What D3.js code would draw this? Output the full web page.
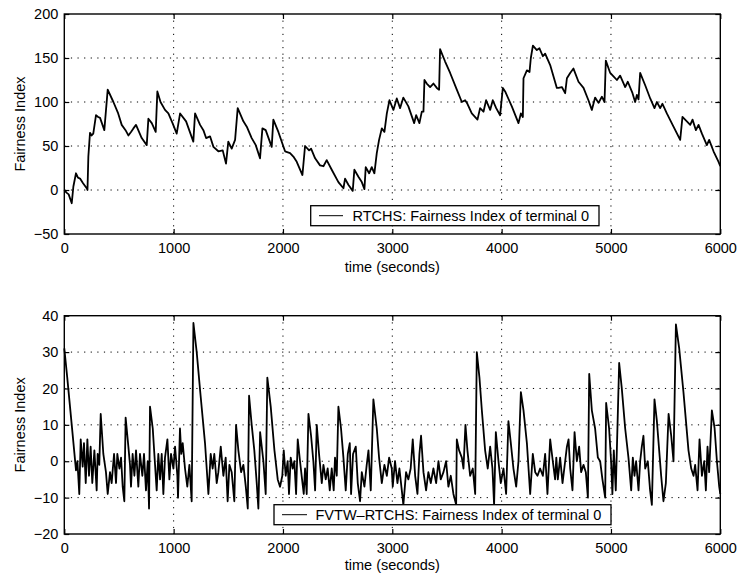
<!DOCTYPE html>
<html>
<head>
<meta charset="utf-8">
<script src="https://cdn.jsdelivr.net/npm/d3@7"></script>
<style>
  html, body { margin: 0; padding: 0; background: #fff; }
  svg text { font-family: "Liberation Sans", Arial, Helvetica, sans-serif; fill: #000; }
</style>
</head>
<body>
<svg id="chart" width="737" height="574"></svg>
<script>
// ---- data ----
var timeTicks = [0, 1000, 2000, 3000, 4000, 5000, 6000];
var rtchsTicks = [-50, 0, 50, 100, 150, 200];
var fvtwTicks = [-20, -10, 0, 10, 20, 30, 40];

// RTCHS: Fairness Index of terminal 0
var rtchsTime = [0, 20, 40, 68, 83, 107, 125, 144, 170, 205, 212, 220, 235, 250, 265, 290, 310, 327, 366, 397,
  449, 490, 525, 560, 586, 610, 632, 656, 708, 754, 769, 800, 836, 851, 880, 921, 952, 990, 1028, 1059,
  1114, 1180, 1196, 1242, 1272, 1297, 1333, 1364, 1409, 1449, 1479, 1500, 1531, 1562, 1586, 1638, 1669, 1714, 1751, 1790,
  1812, 1842, 1897, 1912, 1958, 2019, 2065, 2095, 2126, 2178, 2202, 2239, 2257, 2294, 2339, 2370, 2400, 2446, 2507, 2553,
  2568, 2598, 2638, 2653, 2690, 2721, 2745, 2757, 2788, 2812, 2836, 2858, 2879, 2904, 2928, 2950, 2974, 3010, 3041, 3071,
  3101, 3147, 3200, 3218, 3248, 3270, 3285, 3294, 3315, 3346, 3376, 3407, 3428, 3437, 3483, 3529, 3590, 3636, 3666, 3687,
  3727, 3779, 3803, 3834, 3858, 3895, 3919, 3950, 3986, 4011, 4032, 4093, 4154, 4176, 4194, 4200, 4231, 4255, 4267, 4286,
  4322, 4346, 4377, 4398, 4444, 4505, 4520, 4551, 4581, 4597, 4627, 4657, 4703, 4749, 4794, 4825, 4855, 4886, 4917, 4941,
  4953, 4993, 5023, 5054, 5084, 5130, 5154, 5197, 5221, 5237, 5252, 5267, 5313, 5359, 5398, 5420, 5450, 5471, 5511, 5572,
  5633, 5654, 5694, 5725, 5746, 5777, 5801, 5832, 5877, 5898, 5938, 5984, 6000];
var rtchsValue = [0, -3, -5, -15, 4, 19, 14, 13, 8, 2, 0, 38, 65, 62, 64, 85, 83, 82, 68, 114,
  100, 88, 74, 68, 62, 66, 70, 74, 59, 51, 81, 76, 66, 112, 100, 91, 87, 76, 64, 87,
  78, 55, 87, 74, 68, 59, 61, 49, 44, 45, 30, 55, 47, 57, 93, 78, 72, 59, 51, 36,
  70, 68, 49, 80, 66, 44, 42, 38, 32, 17, 50, 45, 47, 36, 28, 27, 34, 23, 9, 2,
  13, 6, -1, 23, 15, 9, 1, 26, 19, 26, 19, 42, 57, 70, 66, 87, 102, 91, 104, 93,
  105, 95, 76, 85, 76, 89, 89, 125, 121, 117, 121, 116, 114, 160, 146, 133, 114, 100, 102, 98,
  87, 80, 93, 89, 102, 91, 102, 93, 85, 116, 112, 95, 76, 87, 83, 127, 136, 134, 150, 164,
  159, 161, 152, 155, 142, 116, 116, 117, 110, 127, 133, 138, 123, 116, 102, 91, 105, 99, 106, 100,
  147, 133, 129, 125, 130, 117, 123, 110, 100, 108, 103, 133, 119, 104, 93, 100, 93, 98, 87, 72,
  57, 83, 78, 74, 80, 68, 74, 64, 51, 57, 44, 32, 27];

// FVTW-RTCHS: Fairness Index of terminal 0
var fvtwTime = [0, 27, 68, 107, 120, 137, 150, 168, 180, 196, 211, 226, 241, 256, 275, 296, 305, 320, 333, 357,
  381, 397, 418, 433, 455, 473, 485, 504, 519, 534, 549, 561, 586, 601, 610, 625, 641, 656, 677, 692,
  714, 729, 747, 763, 775, 784, 809, 830, 845, 860, 876, 891, 906, 921, 943, 961, 976, 998, 1013, 1034,
  1040, 1058, 1070, 1083, 1104, 1125, 1144, 1165, 1181, 1211, 1242, 1287, 1318, 1339, 1357, 1372, 1394, 1409, 1431, 1455,
  1476, 1494, 1510, 1531, 1555, 1571, 1592, 1617, 1638, 1660, 1678, 1690, 1714, 1738, 1760, 1775, 1791, 1821, 1842, 1857,
  1888, 1922, 1952, 1973, 1994, 2007, 2025, 2043, 2055, 2071, 2089, 2104, 2120, 2135, 2156, 2171, 2190, 2202, 2217, 2233,
  2257, 2278, 2294, 2309, 2330, 2355, 2370, 2391, 2409, 2428, 2446, 2464, 2476, 2492, 2507, 2531, 2553, 2574, 2593, 2611,
  2623, 2641, 2666, 2684, 2705, 2721, 2745, 2766, 2782, 2803, 2827, 2858, 2879, 2904, 2928, 2950, 2971, 2995, 3004, 3025,
  3047, 3065, 3087, 3101, 3126, 3147, 3168, 3187, 3209, 3230, 3248, 3263, 3285, 3309, 3330, 3352, 3376, 3401, 3422, 3443,
  3468, 3492, 3513, 3535, 3559, 3584, 3590, 3611, 3636, 3651, 3669, 3687, 3712, 3736, 3758, 3773, 3797, 3819, 3849, 3873,
  3895, 3916, 3931, 3947, 3971, 3992, 4017, 4041, 4062, 4084, 4108, 4133, 4154, 4176, 4200, 4231, 4261, 4285, 4307, 4328,
  4352, 4377, 4398, 4419, 4444, 4468, 4489, 4500, 4514, 4535, 4557, 4581, 4597, 4612, 4627, 4648, 4667, 4688, 4709, 4727,
  4749, 4770, 4789, 4801, 4825, 4855, 4880, 4901, 4922, 4947, 4956, 4983, 5001, 5013, 5026, 5044, 5075, 5099, 5130, 5160,
  5185, 5200, 5215, 5230, 5252, 5267, 5282, 5297, 5313, 5337, 5358, 5374, 5398, 5420, 5441, 5459, 5480, 5502, 5527, 5551,
  5572, 5594, 5624, 5663, 5709, 5734, 5755, 5770, 5792, 5810, 5832, 5853, 5868, 5883, 5898, 5923, 5948, 5969, 5990, 6000];
var fvtwValue = [31, 23, 10, -2.5, 0, -9, 6, -1.5, 5, -6, 6, -4, 4, -6, 3, -8, 2, -1, 13, 2,
  -3, -9, -3, -6, 2, -6, 2, -2, 1, -7, -11, 12, 4, -1, -7, 2, -4, 3, -7, 2,
  -4, 2, -8, 0, -13, 15, 9, -1, -8, 2, -5, 2, -9, 1, 6, -5, 2, -2, 4, -4,
  -10, 9, 2, 5, -2, -7, -1, -11, 38, 30, 19.5, 5, -9, 2, -2, 2, -6, -3, 4, -4,
  1, -11, -1, -3, -11, 10, 3, -3, -1, -7, -13, 18, 10, 3, -6, -13, 8, 0, -9, 23,
  15, 3, -5, -7, -4, 3, -4, 0, -9, 1, -2, 0, -9, 6, 0, -4, -9, -2, -9, 13,
  7, 0, -8, 10, 2, -6, -1, -5, -2, -8, -2, -8, 1, -4, 15, 9, 1, -8, 2, 5,
  -9, 2, 4, -6, -11, -3, -7, -1, 3, -8, 17, 9, 1, -6, -1, -4, 1, -2, -7, 0,
  -6, -2, -8, -12, -3, -5, -2, 6, -4, -9, 2, 7, -3, -8, -3, -6, -2, -6, 0, -5,
  -3, 0, -7, -4, -9, -12, 6, 3, 1, -2, 10, 3, -4, -2, -9, 30, 23, 14, 3, -2,
  4, -2, -12, 8, 0, -6, -2, -9, 11, 5, -2, -7, 0, 19, 14, 5, -9, 2, -3, -4,
  -2, -4, 2, -9, 6, 0, -5, 1, -5, 1, -6, 0, 4, 6, -2, -8, 8, 0, 4, -3,
  -1, -3, -10, 24, 14, 9, 1, 0, -5, -10, 16, 9, 0, -9, 3, -8, 27, 20, 9, 1,
  -8, 1, -4, 0, -8, 0, 4, 7, -2, 0, -8, -12, 17, 11, 3, -4, -11, -6, 13, 7,
  0, 37.6, 31, 19, 3, -2, -4, -1, -8, 6, -4, 0, -8, 4, -3, 14, 9, 0, -7, -9];

// ---- layout ----
var svg = d3.select('#chart');
var plotLeft = 64.3;
var plotRight = 720.3;

var panels = [
  {
    top: 14, bottom: 234, domain: [-50, 200], ticks: rtchsTicks,
    time: rtchsTime, value: rtchsValue,
    label: 'RTCHS: Fairness Index of terminal 0',
    legend: { x0: 310.7, x1: 599, y0: 205.7, y1: 225.7, lineX0: 319, lineX1: 343, textX: 352.5 },
    xlabelY: 272
  },
  {
    top: 315.7, bottom: 534, domain: [-20, 40], ticks: fvtwTicks,
    time: fvtwTime, value: fvtwValue,
    label: 'FVTW\u2013RTCHS: Fairness Index of terminal 0',
    legend: { x0: 274, x1: 611, y0: 504.7, y1: 524.7, lineX0: 282, lineX1: 307, textX: 315.5 },
    xlabelY: 570
  }
];

function fmt(d) {
  return d < 0 ? '\u2212' + Math.abs(d) : '' + d;
}

function drawPanel(p) {
  var x = d3.scaleLinear().domain([0, 6000]).range([plotLeft, plotRight]);
  var y = d3.scaleLinear().domain(p.domain).range([p.bottom, p.top]);
  var g = svg.append('g');

  // dotted grid
  g.selectAll('.vgrid')
    .data(timeTicks.slice(1, -1))
    .enter().append('line')
    .attr('x1', function (d) { return x(d); })
    .attr('x2', function (d) { return x(d); })
    .attr('y1', p.top).attr('y2', p.bottom)
    .attr('stroke', '#000').attr('stroke-width', 1)
    .attr('stroke-dasharray', '1.2,5.4');
  g.selectAll('.hgrid')
    .data(p.ticks.slice(1, -1))
    .enter().append('line')
    .attr('y1', function (d) { return y(d); })
    .attr('y2', function (d) { return y(d); })
    .attr('x1', plotLeft).attr('x2', plotRight)
    .attr('stroke', '#000').attr('stroke-width', 1)
    .attr('stroke-dasharray', '1.2,5.4');

  // series
  var pts = p.time.map(function (t, i) { return [t, p.value[i]]; });
  var line = d3.line()
    .x(function (d) { return x(d[0]); })
    .y(function (d) { return y(d[1]); });
  g.append('path')
    .datum(pts)
    .attr('d', line)
    .attr('fill', 'none')
    .attr('stroke', '#000')
    .attr('stroke-width', 1.8)
    .attr('stroke-linejoin', 'round');

  // axes, MATLAB style ticks pointing inward on all sides
  var bottomAxis = d3.axisBottom(x).tickValues(timeTicks).tickSize(-5).tickPadding(9).tickFormat(fmt);
  var leftAxis = d3.axisLeft(y).tickValues(p.ticks).tickSize(-5).tickPadding(6).tickFormat(fmt);
  var topAxis = d3.axisTop(x).tickValues(timeTicks).tickSize(-5).tickFormat('');
  var rightAxis = d3.axisRight(y).tickValues(p.ticks).tickSize(-5).tickFormat('');

  var axes = [
    g.append('g').attr('transform', 'translate(0,' + p.bottom + ')').call(bottomAxis),
    g.append('g').attr('transform', 'translate(' + plotLeft + ',0)').call(leftAxis),
    g.append('g').attr('transform', 'translate(0,' + p.top + ')').call(topAxis),
    g.append('g').attr('transform', 'translate(' + plotRight + ',0)').call(rightAxis)
  ];
  axes.forEach(function (a) {
    a.select('.domain').remove();
    a.selectAll('line').attr('stroke', '#000').attr('stroke-width', 1.2);
    a.selectAll('text').attr('font-size', 14.5).attr('fill', '#000')
      .style('font-family', '"Liberation Sans", Arial, Helvetica, sans-serif');
  });

  // frame
  g.append('rect')
    .attr('x', plotLeft).attr('y', p.top)
    .attr('width', plotRight - plotLeft).attr('height', p.bottom - p.top)
    .attr('fill', 'none').attr('stroke', '#000').attr('stroke-width', 1.4);

  // legend
  var L = p.legend;
  var lg = g.append('g');
  lg.append('rect')
    .attr('x', L.x0).attr('y', L.y0)
    .attr('width', L.x1 - L.x0).attr('height', L.y1 - L.y0)
    .attr('fill', '#fff').attr('stroke', '#000').attr('stroke-width', 1.3);
  lg.append('line')
    .attr('x1', L.lineX0).attr('x2', L.lineX1)
    .attr('y1', (L.y0 + L.y1) / 2).attr('y2', (L.y0 + L.y1) / 2)
    .attr('stroke', '#000').attr('stroke-width', 1);
  lg.append('text')
    .attr('x', L.textX).attr('y', (L.y0 + L.y1) / 2 + 5.2)
    .attr('font-size', 14.5)
    .text(p.label);

  // axis titles
  g.append('text')
    .attr('x', (plotLeft + plotRight) / 2).attr('y', p.xlabelY)
    .attr('text-anchor', 'middle').attr('font-size', 14.5)
    .text('time (seconds)');
  g.append('text')
    .attr('transform', 'translate(25,' + (p.top + p.bottom) / 2 + ') rotate(-90)')
    .attr('text-anchor', 'middle').attr('font-size', 14.5)
    .text('Fairness Index');
}

panels.forEach(drawPanel);
</script>
</body>
</html>
